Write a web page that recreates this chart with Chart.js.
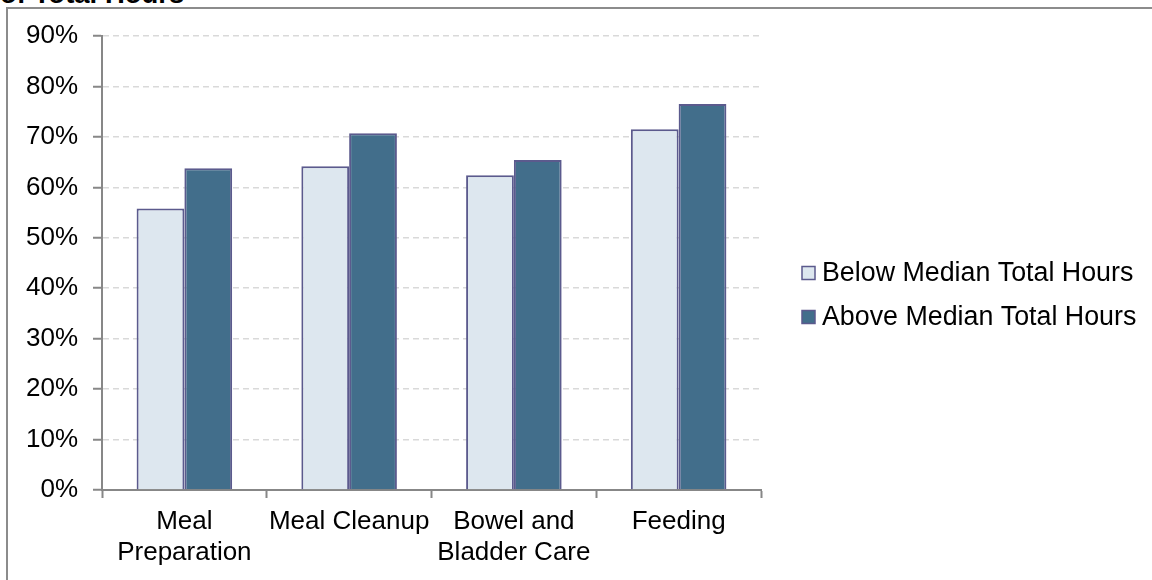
<!DOCTYPE html>
<html>
<head>
<meta charset="utf-8">
<script src="https://cdn.jsdelivr.net/npm/chart.js@4/dist/chart.umd.min.js"></script>
<style>
  html, body { margin: 0; padding: 0; background: #ffffff; }
  #wrap { position: relative; width: 1152px; height: 580px; overflow: hidden; }
  #frame {
    position: absolute; left: 6px; top: 7px; width: 1200px; height: 640px;
    border-top: 2px solid #8c8c8c; border-left: 2px solid #8c8c8c;
  }
  #title {
    position: absolute; left: 0px; top: -22px; margin: 0;
    font: bold 27.5px "Liberation Sans", Arial, sans-serif; color: #000; white-space: nowrap;
  }
  canvas { position: absolute; left: 0; top: 0; }
</style>
</head>
<body>
<div id="wrap">
  <div id="frame"></div>
  <p id="title">of Total Hours</p>
  <canvas id="chart" width="1152" height="580"></canvas>
</div>
<script>
// Care tasks on the horizontal axis (multi-line labels)
const categories = [["Meal", "Preparation"], ["Meal Cleanup"], ["Bowel and", "Bladder Care"], ["Feeding"]];
// Share of caregivers (%) by total hours group
const belowMedian = [55.8, 64.2, 62.4, 71.5];
const aboveMedian = [63.8, 70.7, 65.4, 76.5];
const seriesNames = ["Below Median Total Hours", "Above Median Total Hours"];
// Value axis ticks
const yTicks = [0, 10, 20, 30, 40, 50, 60, 70, 80, 90];

const FONT = "'Liberation Sans', Arial, sans-serif";
const AXIS = '#878787';
const BAR_EDGE = '#5b5a8d';

// Legend drawn to the right of the plot, one row per dataset
const sideLegend = {
  id: 'sideLegend',
  afterDraw(chart) {
    const ctx = chart.ctx;
    ctx.save();
    ctx.font = '26.8px ' + FONT;
    ctx.textBaseline = 'middle';
    ctx.textAlign = 'left';
    chart.data.datasets.forEach((ds, i) => {
      const cy = 273 + i * 44;
      ctx.fillStyle = ds.backgroundColor;
      ctx.fillRect(802, cy - 6.5, 13, 13);
      ctx.strokeStyle = ds.borderColor;
      ctx.lineWidth = 1.5;
      ctx.strokeRect(802, cy - 6.5, 13, 13);
      ctx.fillStyle = '#000';
      ctx.fillText(ds.label, 822, cy + 1);
    });
    ctx.restore();
  }
};

new Chart(document.getElementById('chart'), {
  type: 'bar',
  data: {
    labels: categories,
    datasets: [
      { label: seriesNames[0], data: belowMedian, backgroundColor: '#dde7ef', borderColor: BAR_EDGE, borderWidth: 2 },
      { label: seriesNames[1], data: aboveMedian, backgroundColor: '#426e8b', borderColor: BAR_EDGE, borderWidth: 2 }
    ]
  },
  options: {
    responsive: false,
    animation: false,
    events: [],
    layout: { padding: { left: 0, top: 36, right: 391, bottom: 0 } },
    datasets: { bar: { categoryPercentage: 0.58, barPercentage: 1.0 } },
    plugins: {
      legend: { display: false },
      title: { display: false },
      tooltip: { enabled: false }
    },
    scales: {
      x: {
        offset: true,
        grid: { offset: true, drawOnChartArea: false, drawTicks: true, tickLength: 8, tickColor: AXIS, tickWidth: 2 },
        border: { display: true, color: AXIS, width: 2 },
        ticks: { color: '#000', font: { family: FONT, size: 26, lineHeight: 1.2 }, padding: 8, maxRotation: 0, autoSkip: false },
        afterFit(scale) { scale.height = 90; }
      },
      y: {
        min: 0,
        max: 90,
        afterBuildTicks(scale) { scale.ticks = yTicks.map(v => ({ value: v })); },
        grid: {
          color: '#d9d9d9', lineWidth: 1.5, drawTicks: true, tickLength: 9,
          tickColor: AXIS, tickWidth: 2, tickBorderDash: []
        },
        border: { display: true, color: AXIS, width: 2, dash: [6, 4] },
        ticks: {
          color: '#000', font: { family: FONT, size: 26 }, padding: 15,
          callback: v => v + '%'
        },
        afterFit(scale) { scale.width = 102; }
      }
    }
  },
  plugins: [sideLegend]
});
</script>
</body>
</html>
